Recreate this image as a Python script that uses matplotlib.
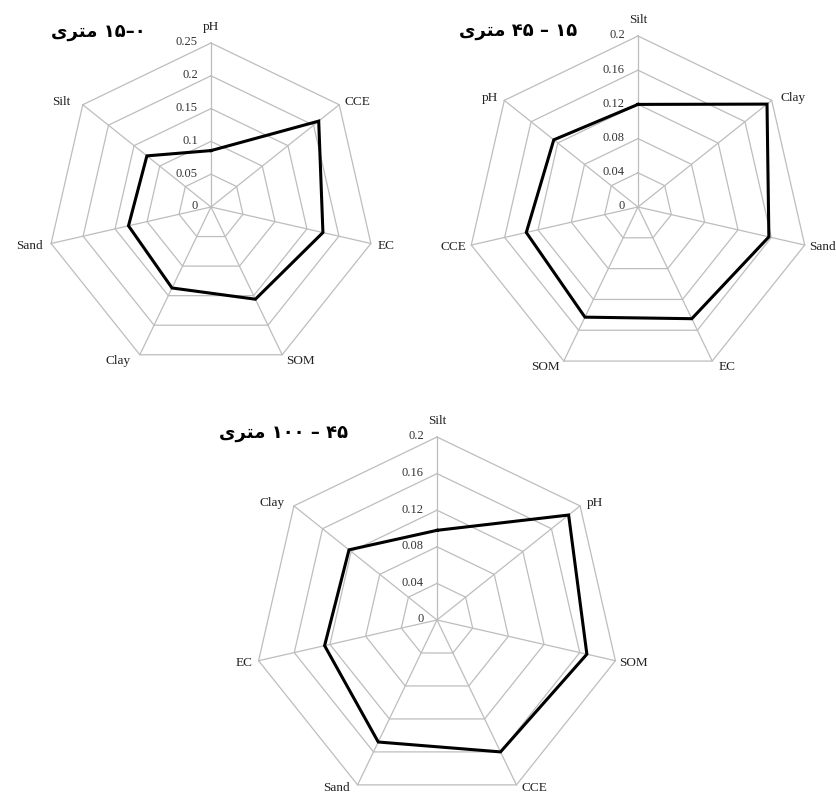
import numpy as np
import matplotlib
matplotlib.use("Agg")
import matplotlib.pyplot as plt

# ---- data -------------------------------------------------------------
cats_0_15 = ["pH", "CCE", "EC", "SOM", "Clay", "Sand", "Silt"]
vals_0_15 = [0.086, 0.210, 0.175, 0.156, 0.137, 0.129, 0.125]
ticks_0_15 = [0, 0.05, 0.1, 0.15, 0.2, 0.25]
tick_labels_0_15 = ["0", "0.05", "0.1", "0.15", "0.2", "0.25"]

cats_15_45 = ["Silt", "Clay", "Sand", "EC", "SOM", "CCE", "pH"]
vals_15_45 = [0.120, 0.193, 0.157, 0.145, 0.143, 0.134, 0.126]
ticks_15_45 = [0, 0.04, 0.08, 0.12, 0.16, 0.2]
tick_labels_15_45 = ["0", "0.04", "0.08", "0.12", "0.16", "0.2"]

cats_45_100 = ["Silt", "pH", "SOM", "CCE", "Sand", "EC", "Clay"]
vals_45_100 = [0.098, 0.184, 0.168, 0.160, 0.148, 0.126, 0.123]
ticks_45_100 = [0, 0.04, 0.08, 0.12, 0.16, 0.2]
tick_labels_45_100 = ["0", "0.04", "0.08", "0.12", "0.16", "0.2"]

# Persian titles written in visual (left-to-right) order with
# presentation-form letters, since matplotlib does no Arabic shaping.
METRI = "\uFEEF\uFEAE\uFE98\uFEE3"  # "متری"
title_0_15 = METRI + " \u06F1\u06F5\u2013\u06F0"
title_15_45 = METRI + " \u06F4\u06F5 \u2013 \u06F1\u06F5"
title_45_100 = METRI + " \u06F1\u06F0\u06F0 \u2013 \u06F4\u06F5"

# ---- figure -----------------------------------------------------------
W, H = 837, 794
fig = plt.figure(figsize=(W / 100, H / 100), dpi=100)
fig.patch.set_facecolor("white")

GRID = "#bdbdbd"
SERIF = ["Liberation Serif", "DejaVu Serif"]
PT = 72 / 100  # points per pixel


def add_polar(cx, cy, r):
    """Polar axes whose centre is (cx, cy) px from top-left, radius r px."""
    rect = [(cx - r) / W, 1 - (cy + r) / H, 2 * r / W, 2 * r / H]
    return fig.add_axes(rect, projection="polar")


def radar(ax, cats, vals, ticks, tick_labels, title, title_xy):
    n = len(cats)
    rmax = ticks[-1]
    theta = np.arange(n) * 2 * np.pi / n
    ax.set_theta_zero_location("N")
    ax.set_theta_direction(-1)
    ax.set_ylim(0, rmax)
    ax.set_xticks([])
    ax.set_yticks([])
    ax.grid(False)
    ax.spines["polar"].set_visible(False)
    ax.patch.set_visible(False)

    closed = np.append(theta, theta[0])
    for t in ticks[1:]:
        ax.plot(closed, [t] * (n + 1), color=GRID, lw=0.9, zorder=1,
                clip_on=False)
    for th in theta:
        ax.plot([th, th], [0, rmax], color=GRID, lw=0.9, zorder=1,
                clip_on=False)

    v = list(vals) + [vals[0]]
    ax.plot(closed, v, color="black", lw=2.2, zorder=3, clip_on=False,
            solid_joinstyle="miter")

    for t, lab in zip(ticks, tick_labels):
        ax.annotate(lab, xy=(0, t), xytext=(-9.5, 0.5),
                    textcoords="offset points", ha="right", va="center",
                    fontsize=9, family=SERIF, color="#333333",
                    annotation_clip=False)

    # category labels sit beside each outer vertex
    for th, c in zip(theta, cats):
        s, co = np.sin(th), np.cos(th)
        hw = len(c) * 3.4
        if abs(s) < 1e-6:
            dx, dy = 0.0, 16.0
        else:
            dx = np.sign(s) * (hw + 8)
            dy = 6 * co - 1
        vx, vy = ax.transData.transform((th, rmax))
        # keep labels inside the canvas
        lx = min(max(vx + dx, hw + 1), W - hw - 1)
        ly = max(vy + dy, 6)
        ax.annotate(c, xy=(th, rmax), xytext=((lx - vx) * PT, (ly - vy) * PT),
                    textcoords="offset points", ha="center", va="center",
                    fontsize=9.5, family=SERIF, color="#222222",
                    annotation_clip=False)

    fig.text(title_xy[0] / W, 1 - title_xy[1] / H, title, ha="center",
             va="center", fontsize=13, fontweight="bold",
             family=["DejaVu Sans"], color="black")


ax1 = add_polar(211, 207, 164)
radar(ax1, cats_0_15, vals_0_15, ticks_0_15, tick_labels_0_15,
      title_0_15, (98, 32))

ax2 = add_polar(638, 207, 171)
radar(ax2, cats_15_45, vals_15_45, ticks_15_45, tick_labels_15_45,
      title_15_45, (518, 31))

ax3 = add_polar(437, 620, 183)
radar(ax3, cats_45_100, vals_45_100, ticks_45_100, tick_labels_45_100,
      title_45_100, (284, 433))

fig.savefig("out.png", dpi=100, facecolor="white")
